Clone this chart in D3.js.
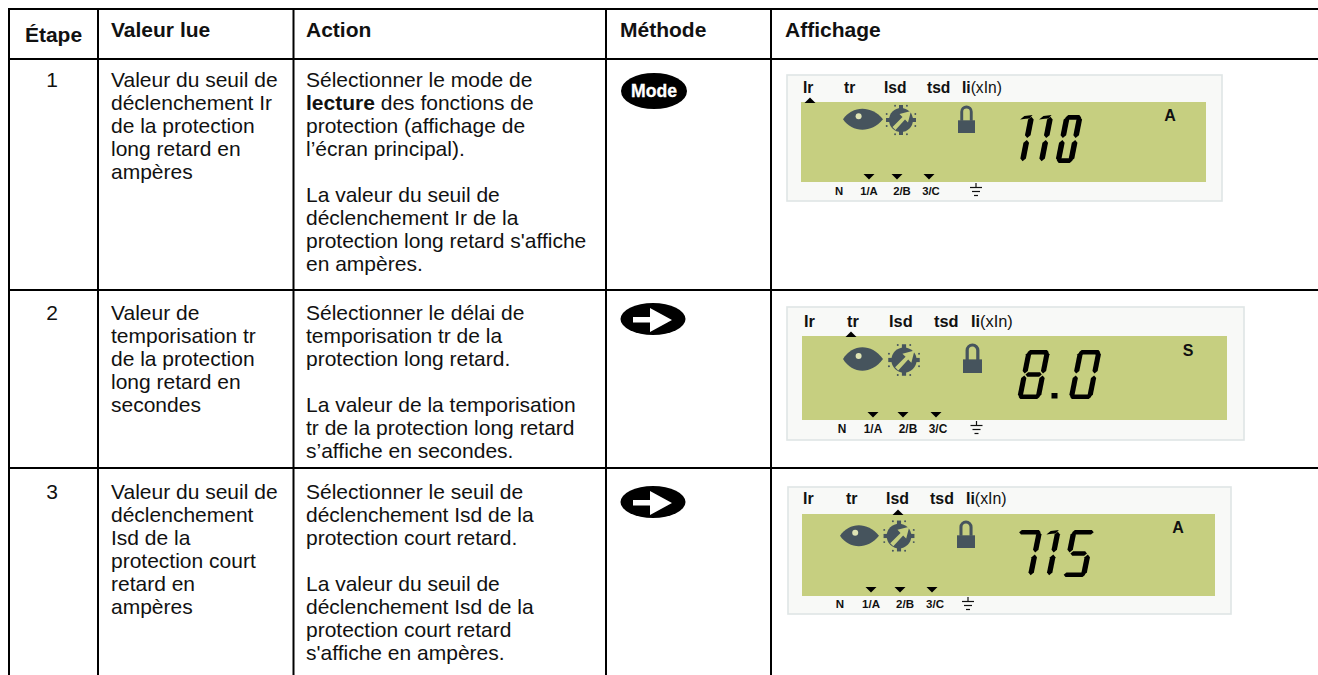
<!DOCTYPE html>
<html lang="fr">
<head>
<meta charset="utf-8">
<title>Lecture des fonctions de protection</title>
<script src="https://cdn.jsdelivr.net/npm/d3@7"></script>
<style>
html,body{margin:0;padding:0;background:#fff;overflow:hidden}
svg{display:block;font-family:"Liberation Sans",Arial,sans-serif}
</style>
</head>
<body>
<svg id="c" width="1318" height="675"></svg>
<script>
// ---------- content ----------
const headers = ["Étape", "Valeur lue", "Action", "Méthode", "Affichage"];
const steps = ["1", "2", "3"];
const valeurs = [
  ["Valeur du seuil de", "déclenchement Ir", "de la protection", "long retard en", "ampères"],
  ["Valeur de", "temporisation tr", "de la protection", "long retard en", "secondes"],
  ["Valeur du seuil de", "déclenchement", "Isd de la", "protection court", "retard en", "ampères"]
];
const actions = [
  ["Sélectionner le mode de", "**lecture** des fonctions de", "protection (affichage de", "l’écran principal).", "", "La valeur du seuil de", "déclenchement Ir de la", "protection long retard s'affiche", "en ampères."],
  ["Sélectionner le délai de", "temporisation tr de la", "protection long retard.", "", "La valeur de la temporisation", "tr de la protection long retard", "s’affiche en secondes."],
  ["Sélectionner le seuil de", "déclenchement Isd de la", "protection court retard.", "", "La valeur du seuil de", "déclenchement Isd de la", "protection court retard", "s'affiche en ampères."]
];
const methodes = ["Mode", "arrow", "arrow"];
const readings = ["110", "8.0", "715"];
const units = ["A", "S", "A"];
const topLabels = ["Ir", "tr", "Isd", "tsd", "Ii"];
const phaseLabels = ["N", "1/A", "2/B", "3/C"];

// ---------- layout ----------
const colX = [9, 98, 293.5, 606, 771];
const rowY = [9, 59, 290, 468];
const lineH = 23;
const headX = [53.5, 111, 306, 620, 785];
const textBase = [87, 320, 499];
const panels = [
  {box:[787,75,1222,201], lcd:[801,102,1206,182], base:93, lab:[803,844,884,927,962], up:[810,103], tri:[869,897,929], triY:174, phBase:195, ph:[839,869,902,931], gnd:[976,183], unit:[1170,121], eye:[843,108.5,883,130], dial:[901,120,1], lock:[958,106,975,133], digit:{x:1017,top:115,H:48,W:18.4,W1:8,gap:11,t:5.6}, s:1},
  {box:[787,307,1244,440], lcd:[802,336,1227,420], base:327, lab:[804,847,889,934,971], up:[851,337], tri:[873,903,936], triY:412, phBase:433, ph:[842,873,908,938], gnd:[976.5,421], unit:[1188,356], eye:[843,347,883,371], dial:[904,360,1.05], lock:[963,344,982,373], digit:{x:1017,top:350,H:49,W:23.5,W1:8,gap:11,t:5.2}, s:1.05},
  {box:[788,487,1231,614], lcd:[802,514,1215,596], base:504, lab:[803,846,886,930,966], up:[898,515], tri:[871,900,932], triY:587, phBase:608, ph:[840,871,905,935], gnd:[968,597], unit:[1178,533], eye:[840,525,879,546.5], dial:[899,536,1.03], lock:[957,521,975,548], digit:{x:1009,top:530,H:47,W:24,W1:8,gap:10.5,t:5.4}, s:1.02}
];
const BLACK = "#000", INK = "#46545d", LCD = "#c6cf80", PANEL = "#f8f9f7", EDGE = "#dfe5e5";

const svg = d3.select("#c");

// ---------- table ----------
const grid = svg.append("g").attr("stroke", BLACK).attr("stroke-width", 2);
grid.selectAll("line.h").data(rowY).join("line").attr("class","h")
  .attr("x1", 8).attr("x2", 1318).attr("y1", d => d).attr("y2", d => d);
grid.selectAll("line.v").data(colX).join("line").attr("class","v")
  .attr("x1", d => d).attr("x2", d => d).attr("y1", 8).attr("y2", 675);

const FS = 21, FH = 21;
svg.selectAll("text.head").data(headers).join("text").attr("class","head")
  .attr("x", (d,i) => headX[i]).attr("y", (d,i) => i === 0 ? 41.5 : 36.5)
  .attr("text-anchor", (d,i) => i === 0 ? "middle" : "start")
  .attr("font-size", FH).attr("font-weight", 700).attr("fill", "#111").text(d => d);

svg.selectAll("text.step").data(steps).join("text").attr("class","step")
  .attr("x", 52).attr("y", (d,i) => textBase[i])
  .attr("text-anchor","middle").attr("font-size", FS).attr("fill","#111").text(d => d);

function block(lines, x, y0) {
  lines.forEach((ln, i) => {
    if (!ln) return;
    const t = svg.append("text").attr("x", x).attr("y", y0 + i * lineH)
      .attr("font-size", FS).attr("fill", "#111");
    ln.split("**").forEach((run, k) => {
      if (run) t.append("tspan").attr("font-weight", k % 2 ? 700 : 400).text(run);
    });
  });
}
valeurs.forEach((l, i) => block(l, headX[1], textBase[i]));
actions.forEach((l, i) => block(l, headX[2], textBase[i]));

// ---------- method buttons ----------
const btn = [{cx:654,cy:91,rx:33,ry:18},{cx:653,cy:319,rx:32.5,ry:16},{cx:653,cy:502,rx:32.5,ry:16}];
methodes.forEach((m, i) => {
  const b = btn[i];
  const g = svg.append("g").attr("transform", `translate(${b.cx},${b.cy})`);
  g.append("ellipse").attr("rx", b.rx).attr("ry", b.ry).attr("fill", BLACK);
  if (m === "Mode") {
    g.append("text").attr("text-anchor","middle").attr("y", 6).attr("font-size", 17.6)
      .attr("font-weight",700).attr("fill","#fff").attr("stroke","#fff").attr("stroke-width",0.3).text(m);
  } else {
    g.append("path").attr("fill","#fff")
      .attr("d", d3.line()([[-20,-2],[-3,-2],[-3,-11],[19,1],[-3,13],[-3,3.5],[-20,3.5]]) + "Z");
  }
});

// ---------- LCD panels ----------
const polyline = d3.line();
const SEG = {"0":"abcdef","1":"bc","5":"afgcd","7":"abc","8":"abcdefg"};

function hSeg(u1, u2, v, t){ return [[u1,v],[u1+t/2,v-t/2],[u2-t/2,v-t/2],[u2,v],[u2-t/2,v+t/2],[u1+t/2,v+t/2]]; }
function vSeg(u, v1, v2, t){ return [[u,v1],[u+t/2,v1+t/2],[u+t/2,v2-t/2],[u,v2],[u-t/2,v2-t/2],[u-t/2,v1+t/2]]; }

function drawDigits(g, text, d) {
  const t = d.t, skew = d.H * 0.2;
  d._x = d.x;
  const shear = p => [d._x + p[0] + skew * (1 - p[1] / d.H), d.top + p[1]];
  for (const ch of text) {
    if (ch === ".") {
      g.append("rect").attr("x", d._x).attr("y", d.top + d.H - 6).attr("width", 6).attr("height", 5.5).attr("fill", BLACK);
      d._x += 6 + d.gap;
      continue;
    }
    const W = ch === "1" ? d.W1 : d.W, H = d.H;
    const r = W - t/2, l = t/2, top = t/2, mid = H/2, bot = H - t/2;
    const segs = {
      a:hSeg(l-1.5, r+1.5, top-0.4, t-0.8), g:hSeg(l+1, r-1, mid, t-0.8), d:hSeg(l-1.5, r+1.5, bot+0.4, t-0.8),
      b:vSeg(r, top-1, mid-1, t), c:vSeg(r, mid+1, bot+1, t),
      f:vSeg(l, top-1, mid-1, t), e:vSeg(l, mid+1, bot+1, t)
    };
    const list = [...SEG[ch]].map(k => segs[k]);
    if (ch === "1") list.push([[-5.6,4.5],[-2,1],[W-2,0],[W-4.5,3.5],[0,3.8]]);
    g.selectAll(null).data(list).join("path").attr("fill", BLACK)
      .attr("d", p => polyline(p.map(shear)) + "Z");
    d._x += W + d.gap;
  }
}

panels.forEach((p, i) => {
  const g = svg.append("g");
  g.append("rect").attr("x", p.box[0]).attr("y", p.box[1]).attr("width", p.box[2]-p.box[0]).attr("height", p.box[3]-p.box[1])
    .attr("fill", PANEL).attr("stroke", EDGE).attr("stroke-width", 1.6);
  g.append("rect").attr("x", p.lcd[0]).attr("y", p.lcd[1]).attr("width", p.lcd[2]-p.lcd[0]).attr("height", p.lcd[3]-p.lcd[1]).attr("fill", LCD);

  // top labels
  const fz = 15.6 * p.s;
  g.selectAll("text.top").data(topLabels).join("text").attr("class","top")
    .attr("x", (d,k) => p.lab[k]).attr("y", p.base).attr("font-size", fz).attr("fill","#111")
    .each(function(d){
      d3.select(this).append("tspan").attr("font-weight",700).text(d);
      if (d === "Ii") d3.select(this).append("tspan").attr("font-weight",400).text("(xIn)");
    });

  // active marker
  g.append("path").attr("fill", BLACK)
    .attr("d", polyline([[p.up[0]-5.5,p.up[1]],[p.up[0],p.up[1]-5.5],[p.up[0]+5.5,p.up[1]]]) + "Z");
  // phase markers
  g.selectAll("path.tri").data(p.tri).join("path").attr("class","tri").attr("fill", BLACK)
    .attr("d", x => polyline([[x-5.5,p.triY],[x+5.5,p.triY],[x,p.triY+5.5]]) + "Z");
  // phase labels
  g.selectAll("text.ph").data(phaseLabels).join("text").attr("class","ph")
    .attr("x", (d,k) => p.ph[k]).attr("y", p.phBase).attr("text-anchor","middle")
    .attr("font-size", 11.3 * p.s).attr("font-weight",700).attr("fill","#111").text(d => d);
  // ground
  const [gx, gy] = p.gnd;
  const gs = g.append("g").attr("stroke","#111").attr("stroke-width",1.2);
  gs.append("line").attr("x1",gx).attr("x2",gx).attr("y1",gy).attr("y2",gy+4.5);
  [[6,4.5],[4,8.5],[2,12.5]].forEach(b => gs.append("line").attr("x1",gx-b[0]).attr("x2",gx+b[0]).attr("y1",gy+b[1]).attr("y2",gy+b[1]));
  // unit
  g.append("text").attr("x", p.unit[0]).attr("y", p.unit[1]).attr("text-anchor","middle")
    .attr("font-size", 16).attr("font-weight",700).attr("fill","#111").text(units[i]);

  // eye
  const [ex0,ey0,ex1,ey1] = p.eye, ecy = (ey0+ey1)/2;
  const eh = ey1-ey0;
  g.append("path").attr("fill", INK)
    .attr("d", `M${ex0},${ecy}C${ex0+9},${ecy-eh*0.62} ${ex1-12},${ecy-eh*0.68} ${ex1},${ecy}C${ex1-12},${ecy+eh*0.68} ${ex0+9},${ecy+eh*0.62} ${ex0},${ecy}Z`);
  g.append("circle").attr("cx", ex0+(ex1-ex0)*0.39).attr("cy", ecy-3).attr("r", 3).attr("fill", "#dfe3b4");

  // dial
  const [dx,dy,ds] = p.dial;
  const dg = g.append("g").attr("transform", `translate(${dx},${dy}) scale(${ds})`);
  dg.append("circle").attr("r", 12).attr("fill", INK);
  [[-2,-15,4,6],[-2,9,4,6],[-15,-2,6,4],[9,-2,6,4]].forEach(r =>
    dg.append("rect").attr("x",r[0]).attr("y",r[1]).attr("width",r[2]).attr("height",r[3]).attr("fill",INK));
  d3.range(8).forEach(k => {
    const a = (k*45 + 22.5) * Math.PI/180;
    dg.append("circle").attr("cx", 15.5*Math.cos(a)).attr("cy", 15.5*Math.sin(a)).attr("r", 0.95).attr("fill", INK);
  });
  dg.append("path").attr("fill", LCD)
    .attr("d", polyline([[-8.5,7],[1.5,-3],[-1.5,-6],[10,-9],[7,2.5],[4,-0.5],[-5.5,10]]) + "Z");

  // lock
  const [lx0,ly0,lx1,ly1] = p.lock, lw = lx1-lx0, lh = ly1-ly0;
  g.append("rect").attr("x", lx0).attr("y", ly0+lh*0.53).attr("width", lw).attr("height", lh*0.47).attr("fill", INK);
  const lcx = lx0+lw/2, lr = lw*0.28;
  g.append("path").attr("fill","none").attr("stroke",INK).attr("stroke-width",lw*0.17)
    .attr("d", `M${lcx-lr},${ly0+lh*0.55}V${ly0+lr+1}A${lr},${lr} 0 0 1 ${lcx+lr},${ly0+lr+1}V${ly0+lh*0.55}`);

  // seven-segment reading
  drawDigits(g, readings[i], p.digit);
});
</script>
</body>
</html>
